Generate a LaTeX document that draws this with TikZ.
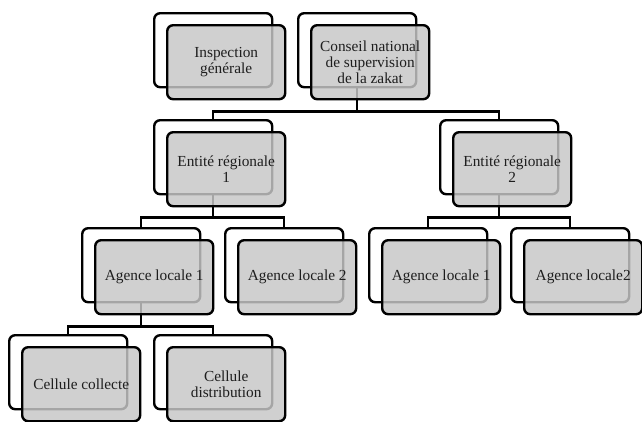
\documentclass[tikz,border=0pt]{standalone}
\usepackage{fontspec}
\setmainfont{Liberation Serif}
\usetikzlibrary{calc}
\definecolor{boxgray}{RGB}{199,199,199}
\definecolor{txt}{RGB}{30,30,30}
\tikzset{
  backbox/.style={draw=black, line width=1.8pt, rounded corners=4.5pt, fill=white,
    minimum width=88.5pt, minimum height=55.5pt, anchor=north west, inner sep=0pt},
  frontbox/.style={draw=black, draw opacity=1, line width=1.8pt, rounded corners=4.5pt,
    fill=boxgray, fill opacity=0.83, text opacity=1, text=txt,
    minimum width=88.5pt, minimum height=55.5pt, inner sep=0pt, align=center,
    font=\fontsize{11.5}{12}\selectfont},
  link/.style={draw=black, line width=1.8pt}
}
\begin{document}
\begin{tikzpicture}[x=0.75pt,y=-0.75pt]
\useasboundingbox (0,0) rectangle (642,421);
% back boxes
\node[backbox] (insp) at (153,12) {};
\node[backbox] (cons) at (297,12) {};
\node[backbox] (ent1) at (153,119) {};
\node[backbox] (ent2) at (439,119) {};
\node[backbox] (alA) at (81,227) {};
\node[backbox] (alB) at (224,227) {};
\node[backbox] (alC) at (368,227) {};
\node[backbox] (alD) at (510,227) {};
\node[backbox] (cc) at (8,334) {};
\node[backbox] (cd) at (153,334) {};
% connectors
\coordinate (j1) at ($(cons.south)+(0,23)$);
\coordinate (j2) at ($(ent1.south)+(0,22)$);
\coordinate (j3) at ($(ent2.south)+(0,22)$);
\coordinate (j4) at ($(alA.south)+(0,23)$);
\draw[link] (cons.south) -- (j1);
\draw[link] (ent1.north) |- (j1) -| (ent2.north);
\draw[link] (ent1.south) -- (j2);
\draw[link] (alA.north) |- (j2) -| (alB.north);
\draw[link] (ent2.south) -- (j3);
\draw[link] (alC.north) |- (j3) -| (alD.north);
\draw[link] (alA.south) -- (j4);
\draw[link] (cc.north) |- (j4) -| (cd.north);
% front boxes
\node[frontbox] (inspF) at ([shift={(13,12)}]insp.center) {Inspection\\générale};
\node[frontbox] (consF) at ([shift={(13,12)}]cons.center) {Conseil national\\de supervision\\de la zakat};
\node[frontbox] (ent1F) at ([shift={(13,12)}]ent1.center) {Entité régionale\\1};
\node[frontbox] (ent2F) at ([shift={(13,12)}]ent2.center) {Entité régionale\\2};
\node[frontbox] (alAF) at ([shift={(13,12)}]alA.center) {Agence locale 1};
\node[frontbox] (alBF) at ([shift={(13,12)}]alB.center) {Agence locale 2};
\node[frontbox] (alCF) at ([shift={(13,12)}]alC.center) {Agence locale 1};
\node[frontbox] (alDF) at ([shift={(13,12)}]alD.center) {Agence locale2};
\node[frontbox] (ccF) at ([shift={(13,12)}]cc.center) {Cellule collecte};
\node[frontbox] (cdF) at ([shift={(13,12)}]cd.center) {Cellule\\distribution};
\end{tikzpicture}
\end{document}
